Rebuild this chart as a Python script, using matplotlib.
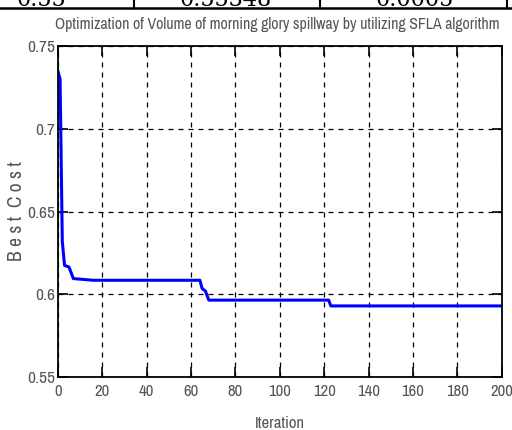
import matplotlib.pyplot as plt

# convergence curve (breakpoints)
iters = [0, 1, 2, 3, 5, 7, 16, 64, 65, 66.5, 68, 122, 123, 200]
best_cost = [0.735, 0.730, 0.632, 0.6175, 0.6165, 0.6095, 0.6085, 0.6085,
             0.6035, 0.602, 0.5965, 0.5965, 0.593, 0.593]

xticks = list(range(0, 201, 20))
yticks = [0.55, 0.6, 0.65, 0.7, 0.75]
ytick_labels = ["0.55", "0.6", "0.65", "0.7", "0.75"]

# cut-off table row above the chart
table_cells = ["0.55", "0.55348", "0.0005"]
table_x = [0.08, 0.44, 0.81]

NARROW = ["Archivo Narrow", "DejaVu Sans"]
GRAY = "#555555"

fig = plt.figure(figsize=(5.12, 4.3), dpi=100)
ax = fig.add_axes([0.113, 0.123, 0.867, 0.770])

ax.plot(iters, best_cost, color="#0000ff", linewidth=2.2)

ax.set_xlim(0, 200)
ax.set_ylim(0.55, 0.75)
ax.set_xticks(xticks)
ax.set_yticks(yticks)
ax.set_yticklabels(ytick_labels)
ax.grid(True, color="black", linestyle=(0, (4, 4)), linewidth=0.9)
ax.tick_params(direction="in", length=7, width=1.2, top=True, right=True,
               labelcolor=GRAY, labelsize=12.5, pad=2)
ax.tick_params(axis="x", pad=5, labelsize=12)
for lab in ax.get_xticklabels() + ax.get_yticklabels():
    lab.set_family(NARROW)
for sp in ax.spines.values():
    sp.set_linewidth(1.3)

ax.set_title("Optimization of Volume of morning glory spillway by utilizing SFLA algorithm",
             family=NARROW, color=GRAY, fontsize=11.4, pad=12, x=0.495)
ax.set_xlabel("Iteration", family=NARROW, color=GRAY, fontsize=12, labelpad=12)
ax.set_ylabel("B e s t  C o s t", family=NARROW, color=GRAY, fontsize=14, labelpad=1)

# table fragment at the very top
fig.add_artist(plt.Line2D([0, 1], [0.982, 0.982], color="black", linewidth=1.8,
                          transform=fig.transFigure))
for xv in [0.262, 0.625, 0.99]:
    fig.add_artist(plt.Line2D([xv, xv], [0.982, 1.0], color="black", linewidth=1.5,
                              transform=fig.transFigure))
for x, t in zip(table_x, table_cells):
    fig.text(x, 0.987, t, family="DejaVu Serif", fontsize=16, ha="center", va="baseline")

fig.savefig("out.png", dpi=100)
